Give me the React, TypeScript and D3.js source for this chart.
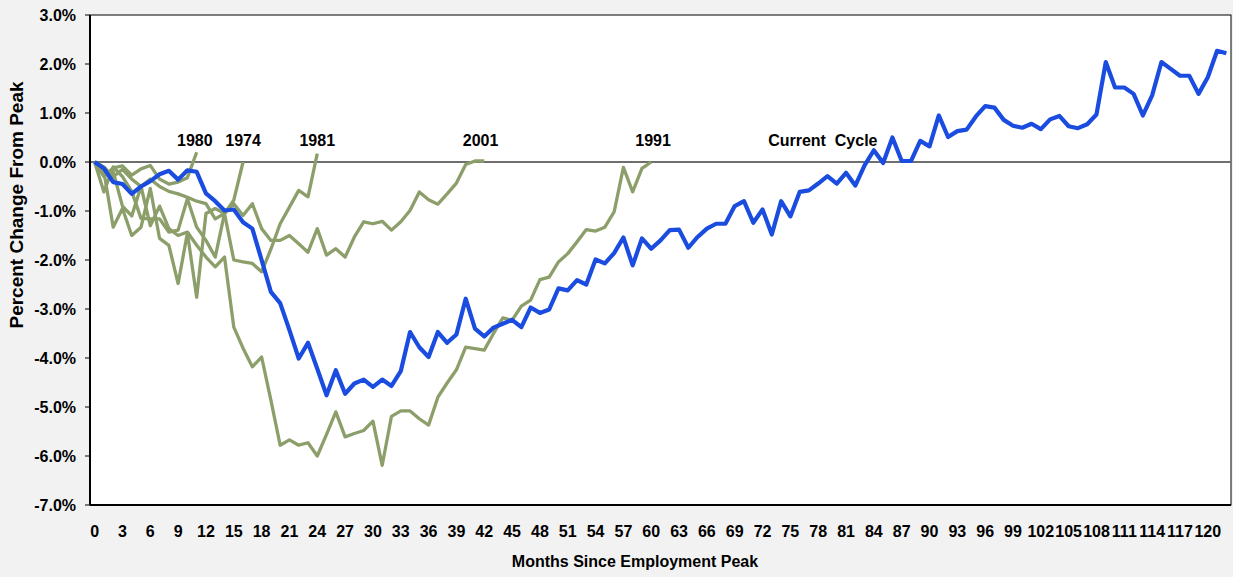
import * as d3 from "d3";

// percent change from employment peak, by months since peak
const currentCycle = [
  0, -0.13, -0.41, -0.45, -0.65, -0.5, -0.39, -0.25, -0.18, -0.36,
  -0.17, -0.2, -0.64, -0.8, -0.99, -0.97, -1.23, -1.36, -2.0, -2.65,
  -2.88, -3.43, -4.01, -3.69, -4.22, -4.76, -4.25, -4.73, -4.52, -4.44,
  -4.59, -4.44, -4.57, -4.27, -3.47, -3.78, -3.98, -3.47, -3.69, -3.52,
  -2.79, -3.4, -3.56, -3.38, -3.3, -3.22, -3.37, -2.97, -3.08, -3.01,
  -2.58, -2.62, -2.41, -2.5, -1.99, -2.07, -1.86, -1.54, -2.11, -1.56,
  -1.77, -1.6, -1.39, -1.38, -1.75, -1.53, -1.36, -1.26, -1.26, -0.9,
  -0.8, -1.24, -0.97, -1.48, -0.8, -1.11, -0.61, -0.58, -0.44, -0.29,
  -0.44, -0.22, -0.48, -0.07, 0.24, -0.02, 0.5, 0.02, 0.02, 0.43,
  0.32, 0.95, 0.51, 0.63, 0.66, 0.93, 1.14, 1.11, 0.86, 0.74,
  0.7, 0.78, 0.67, 0.87, 0.94, 0.73, 0.69, 0.77, 0.97, 2.04,
  1.52, 1.52, 1.39, 0.95, 1.36, 2.04, 1.9, 1.76, 1.76, 1.39,
  1.73, 2.27, 2.22,
];

const cycle1974 = [0, -0.61, -0.1, -0.3, -0.6, -1.15, -1.16, -1.16, -1.43, -1.39, -0.75, -1.33, -1.6, -1.94, -1.05, -0.78, 0];

const cycle1980 = [0, -0.3, -0.12, -0.08, -0.27, -0.14, -0.07, -0.35, -0.45, -0.41, -0.32, 0.2];

const cycle1981 = [
  0, -0.2, -1.33, -0.95, -1.5, -1.33, -0.54, -1.56, -1.7, -2.48,
  -1.45, -2.76, -1.05, -0.95, -1.05, -2.0, -2.04, -2.07, -2.24, -1.78,
  -1.26, -0.92, -0.58, -0.71, 0.17,
];

const cycle1991 = [
  0, -0.25, -0.2, -0.9, -1.1, -0.5, -1.3, -0.9, -1.36, -1.5,
  -1.43, -1.7, -1.94, -2.14, -1.94, -3.37, -3.8, -4.18, -3.98, -4.86,
  -5.78, -5.67, -5.78, -5.73, -6.0, -5.56, -5.1, -5.61, -5.54, -5.48,
  -5.29, -6.19, -5.19, -5.08, -5.08, -5.24, -5.37, -4.8, -4.51, -4.24,
  -3.78, -3.81, -3.84, -3.5, -3.18, -3.23, -2.94, -2.82, -2.4, -2.35,
  -2.04, -1.87, -1.63, -1.38, -1.41, -1.33, -1.02, -0.11, -0.61, -0.13,
  0,
];

const cycle2001 = [
  0, -0.1, -0.3, -0.15, -0.35, -0.5, -0.35, -0.5, -0.6, -0.65,
  -0.72, -0.8, -0.85, -1.16, -1.05, -0.85, -1.09, -0.85, -1.36, -1.6,
  -1.6, -1.5, -1.67, -1.84, -1.36, -1.9, -1.77, -1.94, -1.53, -1.22,
  -1.26, -1.21, -1.39, -1.22, -0.99, -0.61, -0.77, -0.86, -0.65, -0.43,
  -0.05, 0.02, 0.02,
];

const pastCycles = [cycle1974, cycle1980, cycle1981, cycle1991, cycle2001];

const yTicks = [3, 2, 1, 0, -1, -2, -3, -4, -5, -6, -7];

// label text and the month it sits over
const labels: [string, number][] = [
  ["1980", 10.8],
  ["1974", 16],
  ["1981", 24],
  ["2001", 41.6],
  ["1991", 60.2],
  ["Current\u00a0\u00a0Cycle", 78.5],
];

const FONT = "'Liberation Sans', Arial, sans-serif";

export default function App() {
  const width = 1233;
  const height = 577;
  const left = 90, right = 1231, top = 15, bottom = 505;

  const months = d3.range(currentCycle.length);
  const x = d3.scalePoint<number>().domain(months).range([left, right]).padding(0.5);
  const y = d3.scaleLinear().domain([-7, 3]).range([bottom, top]);
  const step = x.step();

  const line = d3.line<number>().x((_, i) => x(i)!).y((d) => y(d));

  return (
    <svg width={width} height={height} style={{ position: "absolute", left: 0, top: 0 }}>
      <rect width={width} height={height} fill="#f2f2f2" />
      <rect x={left} y={top} width={right - left} height={bottom - top} fill="#fff" stroke="#000" strokeWidth={1} />

      {/* zero line */}
      <line x1={left} x2={right} y1={y(0)} y2={y(0)} stroke="#6e6e6e" strokeWidth={2} />

      {pastCycles.map((d, i) => (
        <path key={i} d={line(d)!} fill="none" stroke="#8c9e69" strokeWidth={3.3} strokeLinejoin="round" />
      ))}
      <path d={line(currentCycle)!} fill="none" stroke="#1b4ce0" strokeWidth={4.2} strokeLinejoin="round" />

      {/* axes */}
      <line x1={left} x2={left} y1={top} y2={bottom} stroke="#000" strokeWidth={2} />
      <line x1={left} x2={right} y1={bottom} y2={bottom} stroke="#000" strokeWidth={2} />

      {yTicks.map((t) => (
        <g key={t} transform={`translate(0,${y(t)})`}>
          <line x1={left - 5} x2={left} stroke="#000" strokeWidth={1} />
          <text x={76} dy="0.36em" textAnchor="end" fontFamily={FONT} fontWeight="bold" fontSize={16} fill="#000">
            {t.toFixed(1) + "%"}
          </text>
        </g>
      ))}

      {months.filter((m) => m % 3 === 0 && m <= 120).map((m) => (
        <text key={m} x={x(m)} y={537} textAnchor="middle" fontFamily={FONT} fontWeight="bold" fontSize={16} fill="#000">
          {m}
        </text>
      ))}

      {labels.map(([t, m]) => (
        <text key={t} x={x(Math.floor(m))! + (m % 1) * step} y={y(0.32)} textAnchor="middle" fontFamily={FONT} fontWeight="bold" fontSize={16} fill="#000">
          {t}
        </text>
      ))}

      <text x={635} y={567} textAnchor="middle" fontFamily={FONT} fontWeight="bold" fontSize={16} fill="#000">
        Months Since Employment Peak
      </text>
      <text transform="translate(23,205) rotate(-90)" textAnchor="middle" fontFamily={FONT} fontWeight="bold" fontSize={19} fill="#000">
        Percent Change From Peak
      </text>
    </svg>
  );
}
